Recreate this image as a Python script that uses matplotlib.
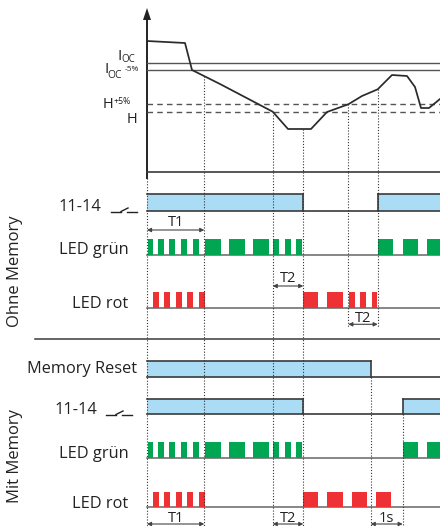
import matplotlib.pyplot as plt
import numpy as np

plt.rcParams['font.family'] = ['Open Sans', 'DejaVu Sans']

# time axis: 0 = left axis, one unit = one pixel of the original drawing
t_end = 293
t_T1 = 57.3       # end of start-up delay T1
t_H = 125.7       # current falls below H
t_off = 156.3     # relay drops (Ohne / Mit)
t_H5 = 201.3      # current back above H+5%
t_on = 230.7      # relay picks up again (Ohne Memory)
t_reset = 223.7   # memory reset released
t_on_mem = 255.7  # relay picks up again (Mit Memory, after 1 s)

# current trace
curve_t = [0, 38, 45, 73, 125.7, 141, 164, 180, 201.3, 215, 230.7, 245, 260, 268, 274, 282, 293]
curve_i = [131, 129, 102, 88, 60.3, 43, 43, 60, 67.7, 76, 82.7, 97, 96, 85, 64, 64, 73]

# threshold levels
i_oc = 109.3
i_oc_5 = 101.7
h_5 = 67.7
h_0 = 60.3

# signal high intervals
relay_ohne = [(0, t_off), (t_on, t_end)]
reset_mit = [(0, t_reset)]
relay_mit = [(0, t_off), (t_on_mem, t_end)]

# LED on-blocks
green_t1 = [(0.5, 6), (11.3, 17), (22.3, 28), (34, 39.5), (46.3, 52)]
green_run = [(58, 74), (82.3, 98), (106.3, 122)]
green_t2 = [(126.3, 132.3), (138, 143.7), (149, 155)]
green_ohne = green_t1 + green_run + green_t2 + [(231.3, 246.3), (255.7, 271.3), (280.3, 293)]
green_mit = green_t1 + green_run + green_t2 + [(255.7, 271.3), (280.3, 293)]

red_t1 = [(6.3, 12), (17, 23), (29, 35), (40, 46), (52, 58)]
red_ohne = red_t1 + [(156.3, 171.3), (180.3, 195.7), (202.3, 207.7), (213, 218.7), (224.7, 230.3)]
red_mit = red_t1 + [(156.3, 171.3), (180.3, 195.7), (204.7, 219.7), (229, 244)]

BLUE = '#abdcf6'
GREEN = '#00a651'
RED = '#ee3135'
EDGE = '#3a3a3a'
GREY = '#555555'
DOT = (0, (1, 1.6))


def draw_signal(ax, high, y_top, y_bot):
    for a, b in high:
        ax.fill_between([a, b], y_top, y_bot, color=BLUE, lw=0, zorder=1)
        ax.plot([a, b], [y_top, y_top], color=EDGE, lw=1.2, zorder=2)
        if a > 0:
            ax.plot([a, a], [y_top, y_bot], color=EDGE, lw=1.2, zorder=2)
        if b < t_end:
            ax.plot([b, b], [y_top, y_bot], color=EDGE, lw=1.2, zorder=2)
    ax.plot([0, t_end], [y_bot, y_bot], color=EDGE, lw=1.2, zorder=2)


def draw_led(ax, blocks, y_top, y_base, color):
    ax.plot([0, t_end], [y_base, y_base], color='#666666', lw=1.1, zorder=1)
    ax.broken_barh([(a, b - a) for a, b in blocks], (y_top, y_base - y_top),
                   facecolors=color, lw=0, zorder=2)


def span(ax, a, b, y, label, ty):
    ax.annotate('', xy=(b, y), xytext=(a, y),
                arrowprops=dict(arrowstyle='<|-|>', color='#444444', lw=0.8,
                                mutation_scale=6, shrinkA=0, shrinkB=0), zorder=4)
    ax.text((a + b) / 2, ty, label, ha='center', va='baseline', fontsize=10.5, color='#222222')


def switch(ax, x0, y):
    ax.plot([x0, x0 + 10], [y, y], color='#222222', lw=1.0)
    ax.plot([x0 + 10, x0 + 17], [y, y - 3.5], color='#222222', lw=1.0)
    ax.plot([x0 + 16, x0 + 26], [y, y], color='#222222', lw=1.0)


fig = plt.figure(figsize=(4.4, 5.26), dpi=100)
ax = fig.add_axes([0, 0, 1, 1])
ax.set_xlim(-147, t_end)
ax.set_ylim(526, 0)
ax.axis('off')

# current plot on its own axes
ax_top = fig.add_axes([147 / 440, (526 - 172) / 526, 293 / 440, 164 / 526])
ax_top.set_xlim(0, t_end)
ax_top.set_ylim(0, 164)
ax_top.axis('off')
ax_top.patch.set_alpha(0)

for lvl in (i_oc, i_oc_5):
    ax_top.plot([0, t_end], [lvl, lvl], color=GREY, lw=1.0, clip_on=False)
for lvl in (h_5, h_0):
    ax_top.plot([0, t_end], [lvl, lvl], color=GREY, lw=1.0, ls=(0, (4, 3)), clip_on=False)
ax_top.plot([0, t_end], [0, 0], color=EDGE, lw=1.2, clip_on=False)
ax_top.plot(curve_t, curve_i, color='#2a2a2a', lw=1.25, clip_on=False)

for t in (t_T1, t_H, t_off, t_H5, t_on):
    ax_top.plot([t, t], [np.interp(t, curve_t, curve_i), 0], color='#333333', lw=0.8, ls=DOT)

# vertical axis with arrow
ax.plot([0, 0], [19, 178], color='#222222', lw=1.4)
ax.fill([-4, 0, 4], [20, 8, 20], color='#222222', lw=0)

# threshold labels
ax.text(-29.5, 60, 'I', fontsize=11, color='#222222', va='baseline')
ax.text(-25.5, 62, 'OC', fontsize=7, color='#222222', va='baseline')
ax.text(-43, 73, 'I', fontsize=11, color='#222222', va='baseline')
ax.text(-39.5, 77.5, 'OC', fontsize=7.5, color='#222222', va='baseline')
ax.text(-22.5, 71, '-5%', fontsize=6, color='#222222', va='baseline')
ax.text(-44, 108.5, 'H', fontsize=10.5, color='#222222', va='baseline')
ax.text(-33, 103.5, '+5%', fontsize=6.3, color='#222222', va='baseline')
ax.text(-20.5, 123, 'H', fontsize=10.5, color='#222222', va='baseline')

# dotted event lines in the lower part
for t in (t_T1, t_H, t_off):
    ax.plot([t, t], [172, 526], color='#333333', lw=0.8, ls=DOT, zorder=5)
ax.plot([0, 0], [178, 526], color='#333333', lw=0.8, ls=DOT, zorder=5)
for t in (t_H5, t_on):
    ax.plot([t, t], [172, 327], color='#333333', lw=0.8, ls=DOT, zorder=5)
ax.plot([t_reset, t_reset], [376.7, 526], color='#333333', lw=0.8, ls=DOT, zorder=5)
ax.plot([t_on_mem, t_on_mem], [414, 526], color='#333333', lw=0.8, ls=DOT, zorder=5)

lab = dict(ha='right', va='baseline', fontsize=11.8, color='#222222')

# Ohne Memory
draw_signal(ax, relay_ohne, 194.3, 210.7)
ax.text(-46, 210.7, '11-14', **lab)
switch(ax, -36, 211.5)
span(ax, 0, t_T1, 230, 'T1', 226.5)
draw_led(ax, green_ohne, 239.3, 255.3, GREEN)
ax.text(-18.7, 254, 'LED grün', **lab)
span(ax, t_H, t_off, 286, 'T2', 281.7)
draw_led(ax, red_ohne, 292, 307.7, RED)
ax.text(-18.7, 308, 'LED rot', **lab)
span(ax, t_H5, t_on, 324.3, 'T2', 321.7)
ax.text(-132, 271.5, 'Ohne Memory', rotation=90, ha='center', va='center',
        fontsize=12, color='#222222')

ax.plot([-112, t_end], [339.3, 339.3], color=EDGE, lw=1.1)

# Mit Memory
draw_signal(ax, reset_mit, 361, 376.7)
ax.text(-10.3, 373, 'Memory Reset', **lab)
draw_signal(ax, relay_mit, 398.7, 414)
ax.text(-50, 414, '11-14', **lab)
switch(ax, -41, 414.5)
draw_led(ax, green_mit, 442.3, 458.3, GREEN)
ax.text(-18.7, 458, 'LED grün', **lab)
draw_led(ax, red_mit, 492.3, 507.3, RED)
ax.text(-18.7, 507.5, 'LED rot', **lab)
span(ax, 0, t_T1, 524, 'T1', 521.5)
span(ax, t_H, t_off, 524, 'T2', 521.5)
span(ax, t_reset, t_on_mem, 524, '1s', 521.5)
ax.text(-132, 456, 'Mit Memory', rotation=90, ha='center', va='center',
        fontsize=12, color='#222222')

fig.savefig('out.png', dpi=100)
